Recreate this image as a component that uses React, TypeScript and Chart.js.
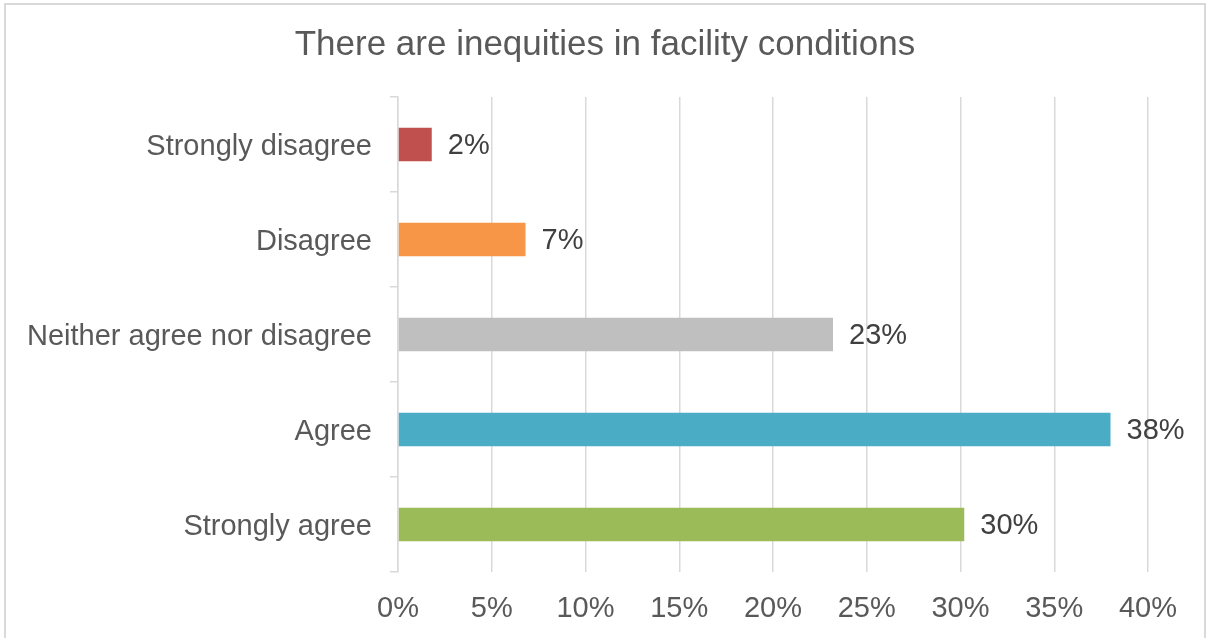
import React, { useEffect, useRef } from "react";
import { Chart, registerables } from "chart.js";

Chart.register(...registerables);

const TITLE = "There are inequities in facility conditions";
const categories = [
  "Strongly disagree",
  "Disagree",
  "Neither agree nor disagree",
  "Agree",
  "Strongly agree",
];
const values = [1.8, 6.8, 23.2, 38.0, 30.2];
const valueLabels = ["2%", "7%", "23%", "38%", "30%"];
const barColors = ["#C0504D", "#F79646", "#BFBFBF", "#4BACC6", "#9BBB59"];
const xTicks = [0, 5, 10, 15, 20, 25, 30, 35, 40];

const FONT = "'Liberation Sans', Arial, sans-serif";

const decorPlugin = {
  id: "decor",
  beforeDraw(chart: any) {
    const ctx = chart.ctx;
    ctx.save();
    ctx.fillStyle = "#ffffff";
    ctx.fillRect(0, 0, chart.width, chart.height);
    ctx.strokeStyle = "#d9d9d9";
    ctx.lineWidth = 2;
    ctx.strokeRect(5, 4, 1200, 650);
    ctx.fillStyle = "#595959";
    ctx.font = `35px ${FONT}`;
    ctx.textAlign = "center";
    ctx.textBaseline = "middle";
    ctx.fillText(TITLE, 605, 45);
    ctx.restore();
  },
  afterDatasetsDraw(chart: any) {
    const ctx = chart.ctx;
    const meta = chart.getDatasetMeta(0);
    ctx.save();
    ctx.fillStyle = "#404040";
    ctx.font = `29px ${FONT}`;
    ctx.textAlign = "left";
    ctx.textBaseline = "middle";
    meta.data.forEach((bar: any, i: number) => {
      ctx.fillText(valueLabels[i], bar.x + 16, bar.y + 1);
    });
    ctx.restore();
  },
};

export default function App() {
  const ref = useRef<HTMLCanvasElement | null>(null);
  useEffect(() => {
    if (!ref.current) return;
    const chart = new Chart(ref.current, {
      type: "bar",
      data: {
        labels: categories,
        datasets: [
          {
            data: values,
            backgroundColor: barColors,
            borderWidth: 0,
            categoryPercentage: 1,
            barPercentage: 0.355,
          },
        ],
      },
      options: {
        indexAxis: "y",
        responsive: false,
        animation: false,
        devicePixelRatio: 1,
        layout: { padding: { top: 97, right: 58, left: 0, bottom: 0 } },
        plugins: {
          legend: { display: false },
          title: { display: false },
          tooltip: { enabled: false },
        },
        scales: {
          x: {
            min: 0,
            max: 40,
            afterBuildTicks(scale: any) {
              scale.ticks = xTicks.map((v) => ({ value: v }));
            },
            afterFit(scale: any) {
              scale.height = 66;
            },
            border: { display: false },
            grid: {
              color: "#d9d9d9",
              lineWidth: 1.5,
              drawTicks: false,
            },
            ticks: {
              color: "#595959",
              font: { size: 29, family: FONT },
              padding: 20,
              maxRotation: 0,
              callback: (v: any) => `${v}%`,
            },
          },
          y: {
            afterFit(scale: any) {
              scale.width = 398;
            },
            border: { display: true, color: "#d9d9d9", width: 1.5 },
            grid: {
              drawOnChartArea: false,
              drawTicks: true,
              tickLength: 8,
              color: "#d9d9d9",
              lineWidth: 1.5,
              offset: true,
            },
            ticks: {
              color: "#595959",
              font: { size: 29, family: FONT },
              padding: 18,
              labelOffset: 2,
            },
          },
        },
      },
      plugins: [decorPlugin],
    });
    return () => chart.destroy();
  }, []);
  return (
    <div style={{ position: "absolute", left: 0, top: 0, width: 1206, height: 638 }}>
      <canvas ref={ref} width={1206} height={638} style={{ display: "block" }} />
    </div>
  );
}
